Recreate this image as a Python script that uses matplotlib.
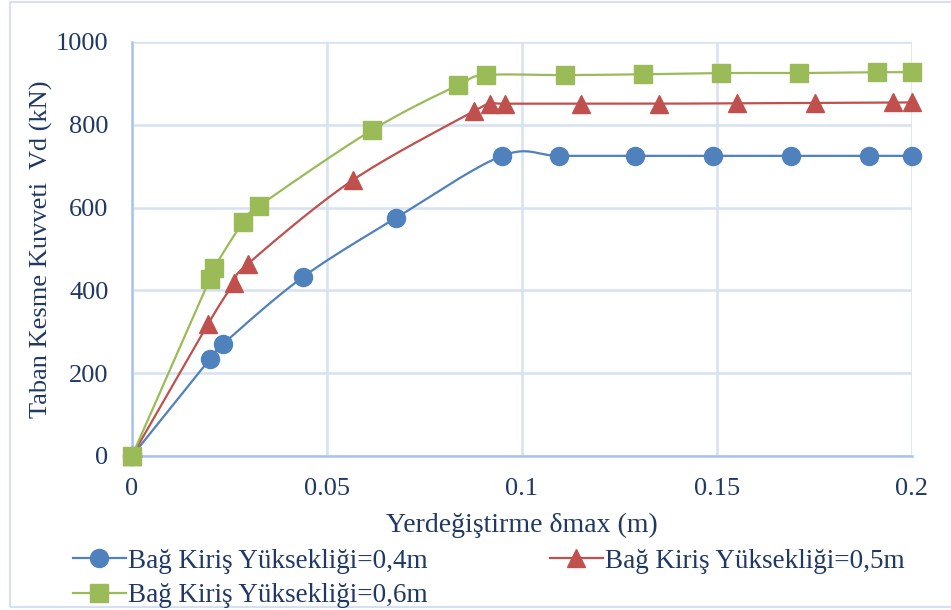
import numpy as np
import matplotlib
matplotlib.use("Agg")
import matplotlib.pyplot as plt
from matplotlib.lines import Line2D

x_04 = [0, 0.020, 0.0233, 0.0438, 0.0677, 0.0949, 0.1095, 0.129, 0.149, 0.169, 0.189, 0.2]
y_04 = [0, 234, 270, 432, 575, 725, 725, 725, 725, 725, 725, 725]

x_05 = [0, 0.0195, 0.0262, 0.0297, 0.0567, 0.0877, 0.0918, 0.0956, 0.115, 0.135, 0.155, 0.175, 0.195, 0.2]
y_05 = [0, 319, 418, 464, 667, 833, 851, 851, 851, 851, 852, 853, 854, 854]

x_06 = [0, 0.020, 0.021, 0.0285, 0.0326, 0.0615, 0.0836, 0.0908, 0.111, 0.131, 0.151, 0.171, 0.191, 0.2]
y_06 = [0, 428, 454, 565, 604, 787, 896, 920, 920, 922, 925, 925, 927, 927]

labels = ["Bağ Kiriş Yüksekliği=0,4m", "Bağ Kiriş Yüksekliği=0,5m", "Bağ Kiriş Yüksekliği=0,6m"]
colors = ["#4F81BD", "#C0504D", "#9BBB59"]
markers = ["o", "^", "s"]
xticks = [0, 0.05, 0.1, 0.15, 0.2]
xticklabels = ["0", "0.05", "0.1", "0.15", "0.2"]
yticks = [0, 200, 400, 600, 800, 1000]

TXT = "#1F3864"
plt.rcParams['font.family'] = ['Liberation Serif', 'DejaVu Serif']


def smooth(xs, ys, sx=0.2, sy=1000.0, n=20):
    # Excel-like smoothing: cubic Bezier with Catmull-Rom control points (scaled space)
    k = 414 / 780
    P = np.column_stack([np.array(xs) / sx, np.array(ys) / sy * k])
    out = [P[0]]
    m = len(P)
    for i in range(m - 1):
        p0 = P[i - 1] if i > 0 else P[i]
        p1 = P[i]
        p2 = P[i + 1]
        p3 = P[i + 2] if i + 2 < m else P[i + 1]
        c1 = p1 + (p2 - p0) / 6.0
        c2 = p2 - (p3 - p1) / 6.0
        t = np.linspace(0, 1, n)[1:, None]
        seg = ((1 - t) ** 3) * p1 + 3 * ((1 - t) ** 2) * t * c1 + 3 * (1 - t) * t ** 2 * c2 + t ** 3 * p2
        out.extend(seg)
    out = np.array(out)
    return out[:, 0] * sx, out[:, 1] / k * sy


fig = plt.figure(figsize=(9.51, 6.10), dpi=100)
ax = fig.add_axes([132 / 951, 1 - 456 / 610, 780 / 951, 414 / 610])

series = [(x_04, y_04), (x_05, y_05), (x_06, y_06)]
sizes = [13, 13.5, 12.5]
for (xs, ys), c, mk, ms in zip(series, colors, markers, sizes):
    sx, sy = smooth(xs, ys)
    ax.plot(sx, sy, color=c, lw=1.6, zorder=2, clip_on=False)
    ax.plot(xs, ys, linestyle="none", marker=mk, ms=ms, color=c, mec=c, zorder=3, clip_on=False)

ax.set_xlim(0, 0.2)
ax.set_ylim(0, 1000)
ax.set_xticks(xticks)
ax.set_xticklabels(xticklabels)
ax.set_yticks(yticks)
ax.grid(True, color="#D6E1F1", lw=1.8)
ax.set_axisbelow(True)
for s in ["top", "right"]:
    ax.spines[s].set_visible(False)
for s in ["left", "bottom"]:
    ax.spines[s].set_color("#A9C4EB")
    ax.spines[s].set_linewidth(1.8)
ax.tick_params(length=0, labelsize=19, colors=TXT)
ax.tick_params(axis="x", pad=16)
ax.tick_params(axis="y", pad=17)
ax.set_xlabel("Yerdeğiştirme δmax (m)", fontsize=20, color=TXT, labelpad=9)
ax.set_ylabel("Taban Kesme Kuvveti  Vd (kN)", fontsize=19, color=TXT, labelpad=2)

handles = [Line2D([0], [0], color=c, marker=mk, ms=ms, lw=1.6) for c, mk, ms in zip(colors, markers, sizes)]
order = [0, 2, 1]
fig.legend([handles[i] for i in order], [labels[i] for i in order], loc="upper left",
           bbox_to_anchor=(62 / 951, 1 - 538 / 610), ncol=2, frameon=False,
           fontsize=19.5, labelcolor=TXT, handlelength=1.95, handletextpad=0.1, columnspacing=4.5,
           labelspacing=0.35, borderaxespad=0.0)

fig.patches.append(plt.Rectangle((10 / 951, 3 / 610), 1.0, 1 - 5 / 610, transform=fig.transFigure,
                                 fill=False, edgecolor="#D5E0F0", lw=1.5))
fig.savefig("out.png", dpi=100)
